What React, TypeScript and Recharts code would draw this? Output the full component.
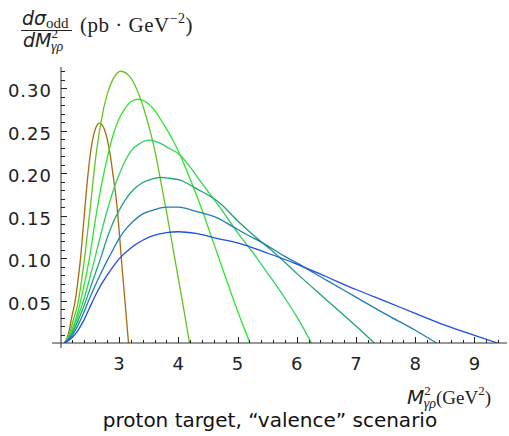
import { LineChart, Line, XAxis, YAxis } from 'recharts';

// each curve: [M^2 (GeV^2), dsigma/dM^2 (pb/GeV^2)]
const curve1 = [
  [2.08, 0], [2.15, 0.012], [2.2, 0.03], [2.26, 0.05], [2.3, 0.07], [2.35, 0.1], [2.4, 0.14],
  [2.45, 0.18], [2.5, 0.214], [2.55, 0.238], [2.6, 0.252], [2.67, 0.259], [2.75, 0.252],
  [2.8, 0.24], [2.85, 0.222], [2.9, 0.197], [2.96, 0.165], [3.05, 0.09], [3.16, 0],
];
const curve2 = [
  [2.08, 0], [2.15, 0.008], [2.22, 0.025], [2.3, 0.045], [2.4, 0.09], [2.5, 0.15], [2.6, 0.215],
  [2.7, 0.262], [2.8, 0.293], [2.9, 0.311], [3.03, 0.32], [3.2, 0.312], [3.35, 0.29],
  [3.5, 0.256], [3.6, 0.228], [3.7, 0.192], [3.8, 0.155], [3.9, 0.116], [4.0, 0.076],
  [4.1, 0.037], [4.19, 0],
];
const curve3 = [
  [2.08, 0], [2.2, 0.015], [2.3, 0.035], [2.4, 0.065], [2.5, 0.1], [2.6, 0.145], [2.7, 0.185],
  [2.8, 0.218], [2.9, 0.245], [3.0, 0.264], [3.1, 0.276], [3.2, 0.284], [3.32, 0.287],
  [3.45, 0.284], [3.6, 0.274], [3.75, 0.258], [3.9, 0.24], [4.0, 0.226], [4.2, 0.193],
  [4.4, 0.157], [4.6, 0.117], [4.8, 0.077], [5.0, 0.038], [5.21, 0],
];
const curve4 = [
  [2.08, 0], [2.2, 0.012], [2.3, 0.03], [2.4, 0.05], [2.5, 0.075], [2.6, 0.102], [2.7, 0.13],
  [2.8, 0.156], [2.9, 0.179], [3.0, 0.198], [3.1, 0.214], [3.2, 0.226], [3.35, 0.235],
  [3.52, 0.239], [3.7, 0.235], [3.85, 0.229], [4.02, 0.222], [4.2, 0.207], [4.4, 0.188],
  [4.7, 0.16], [5.0, 0.13], [5.2, 0.112], [5.5, 0.083], [5.8, 0.053], [6.0, 0.031], [6.25, 0],
];
const curve5 = [
  [2.08, 0], [2.2, 0.01], [2.3, 0.025], [2.4, 0.042], [2.5, 0.062], [2.6, 0.082], [2.7, 0.102],
  [2.8, 0.124], [2.9, 0.142], [3.0, 0.156], [3.1, 0.168], [3.25, 0.181], [3.4, 0.189],
  [3.55, 0.193], [3.7, 0.195], [3.85, 0.194], [4.02, 0.192], [4.3, 0.182], [4.7, 0.165],
  [5.0, 0.144], [5.37, 0.121], [5.66, 0.104], [6.0, 0.082], [6.5, 0.051], [7.0, 0.02], [7.31, 0],
];
const curve6 = [
  [2.08, 0], [2.2, 0.008], [2.3, 0.02], [2.4, 0.035], [2.5, 0.052], [2.6, 0.068], [2.7, 0.083],
  [2.8, 0.097], [2.9, 0.11], [3.0, 0.123], [3.1, 0.133], [3.25, 0.144], [3.4, 0.152],
  [3.6, 0.157], [3.8, 0.16], [4.0, 0.16], [4.3, 0.155], [4.67, 0.147], [4.92, 0.137],
  [5.2, 0.126], [5.37, 0.12], [5.8, 0.102], [6.11, 0.09], [6.5, 0.074], [7.0, 0.054],
  [7.5, 0.034], [8.0, 0.015], [8.36, 0],
];
const curve7 = [
  [2.08, 0], [2.2, 0.006], [2.3, 0.014], [2.4, 0.026], [2.5, 0.041], [2.6, 0.056], [2.7, 0.069],
  [2.8, 0.08], [2.9, 0.09], [3.0, 0.099], [3.2, 0.112], [3.4, 0.121], [3.6, 0.127], [3.8, 0.13],
  [4.0, 0.131], [4.3, 0.129], [4.67, 0.123], [5.0, 0.118], [5.5, 0.106], [6.0, 0.093],
  [6.5, 0.078], [7.0, 0.063], [7.5, 0.049], [8.0, 0.035], [8.5, 0.021], [9.0, 0.009], [9.39, 0],
];

const curves = [curve1, curve2, curve3, curve4, curve5, curve6, curve7];
const colors = ['#a86a12', '#62c41e', '#2fe62f', '#2ed457', '#1ea378', '#1f7db2', '#1f4fe0'];

const xLabels = [3, 4, 5, 6, 7, 8, 9];
const yLabels = [0.05, 0.1, 0.15, 0.2, 0.25, 0.3];
const xTicks = Array.from({ length: 37 }, (_, i) => +(2.2 + i * 0.2).toFixed(1));
const yTicks = Array.from({ length: 32 }, (_, i) => +(0.01 + i * 0.01).toFixed(2));

const axisColor = '#333';
const sans = '"DejaVu Sans", sans-serif';
const serif = '"Liberation Serif", serif';

function XTick(props: any) {
  const { x, y, payload } = props;
  const v = payload.value;
  const major = xLabels.some((l) => Math.abs(l - v) < 1e-6);
  const px = Math.round(x) + 0.5;
  return (
    <g>
      <path d={`M${px},${y}V${y - (major ? 6 : 3.5)}`} stroke="#222" strokeWidth={1} shapeRendering="crispEdges" />
      {major && (
        <text x={x} y={y + 27} textAnchor="middle" fontSize={18} fontFamily={sans} fill="#222">
          {v}
        </text>
      )}
    </g>
  );
}

function YTick(props: any) {
  const { x, y, payload } = props;
  const v = payload.value;
  const major = yLabels.some((l) => Math.abs(l - v) < 1e-6);
  const py = Math.round(y) + 0.5;
  return (
    <g>
      <path d={`M${x},${py}H${x + (major ? 6 : 3.5)}`} stroke="#222" strokeWidth={1} shapeRendering="crispEdges" />
      {major && (
        <text x={x - 9} y={y + 9} textAnchor="end" fontSize={18} letterSpacing={1} fontFamily={sans} fill="#222">
          {v.toFixed(2)}
        </text>
      )}
    </g>
  );
}

export default function App() {
  return (
    <div style={{ position: 'absolute', left: 0, top: 0, width: 509, height: 436, background: '#fff' }}>
      <LineChart width={509} height={436} margin={{ top: 67, right: 2, left: 0, bottom: 0 }}>
        <XAxis
          type="number"
          dataKey="x"
          domain={[2.02, 9.55]}
          ticks={xTicks}
          interval={0}
          tickSize={0}
          tickMargin={0}
          tickLine={false}
          height={93}
          tick={<XTick />}
          axisLine={{ stroke: axisColor }}
          allowDataOverflow
        />
        <YAxis
          type="number"
          domain={[0, 0.325]}
          ticks={yTicks}
          interval={0}
          tickSize={0}
          tickMargin={0}
          tickLine={false}
          width={61}
          tick={<YTick />}
          axisLine={{ stroke: axisColor }}
          allowDataOverflow
        />
        {curves.map((c, i) => (
          <Line
            key={i}
            data={c.map(([x, y]) => ({ x, y }))}
            dataKey="y"
            type="monotone"
            stroke={colors[i]}
            strokeWidth={1.3}
            dot={false}
            isAnimationActive={false}
          />
        ))}
      </LineChart>
      <svg width={509} height={436} style={{ position: 'absolute', left: 0, top: 0, pointerEvents: 'none' }}>
        {/* axes cross a little past the origin, as in the original */}
        <line x1={52} x2={61} y1={343} y2={343} stroke={axisColor} strokeWidth={1} />
        <line x1={61} x2={61} y1={343} y2={348} stroke={axisColor} strokeWidth={1} />
        {/* y axis title: d sigma_odd / dM^2_{gamma rho} (pb . GeV^-2) */}
        <text x={22} y={25} fontSize={19} fill="#222">
          <tspan fontFamily={sans} fontStyle="italic">dσ</tspan>
          <tspan fontFamily={serif} fontSize={15} dy={3}>odd</tspan>
        </text>
        <line x1={21} x2={72} y1={30.5} y2={30.5} stroke="#222" strokeWidth={1} />
        <text x={23} y={47} fontSize={19} fill="#222">
          <tspan fontFamily={sans} fontStyle="italic">dM</tspan>
          <tspan fontFamily={serif} fontSize={13} dy={-9}>2</tspan>
          <tspan fontFamily={serif} fontStyle="italic" fontSize={14} dx={-7} dy={13}>γρ</tspan>
        </text>
        <text x={80} y={32} fontSize={21} fontFamily={serif} fill="#222" letterSpacing={0.5}>
          <tspan>(pb · GeV</tspan>
          <tspan fontSize={14} dy={-9}>−2</tspan>
          <tspan dy={9}>)</tspan>
        </text>
        {/* x axis title */}
        <text x={407} y={404} fontSize={20} fill="#222">
          <tspan fontFamily={sans} fontStyle="italic">M</tspan>
          <tspan fontFamily={serif} fontSize={13} dy={-9}>2</tspan>
          <tspan fontFamily={serif} fontStyle="italic" fontSize={14} dx={-7} dy={13}>γρ</tspan>
          <tspan fontFamily={serif} fontSize={19} dy={-4}>(GeV</tspan>
          <tspan fontFamily={serif} fontSize={13} dy={-9}>2</tspan>
          <tspan fontFamily={serif} fontSize={19} dy={9}>)</tspan>
        </text>
        <text x={270} y={427} textAnchor="middle" fontSize={20} fontFamily={sans} fill="#111">
          proton target, “valence” scenario
        </text>
      </svg>
    </div>
  );
}
